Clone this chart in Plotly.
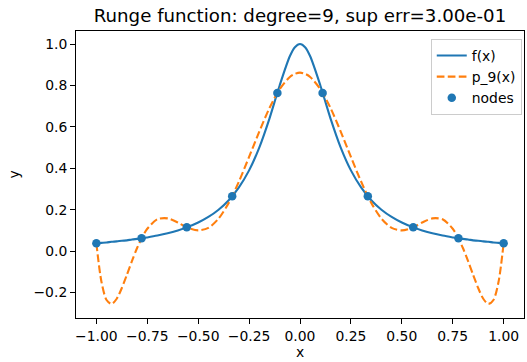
import plotly.graph_objects as go

# Shared sample positions along x
x_vals = [-1.0, -0.975, -0.95, -0.925, -0.9, -0.875, -0.85, -0.825, -0.8, -0.775, -0.75,
          -0.7, -0.65, -0.6, -0.55, -0.5, -0.45, -0.4, -0.35, -0.3, -0.25, -0.2, -0.15,
          -0.1, -0.05, -0.025, 0.0, 0.025, 0.05, 0.1, 0.15, 0.2, 0.25, 0.3, 0.35, 0.4,
          0.45, 0.5, 0.55, 0.6, 0.65, 0.7, 0.75, 0.775, 0.8, 0.825, 0.85, 0.875, 0.9,
          0.925, 0.95, 0.975, 1.0]

# Runge function values f(x)
f_vals = [0.038, 0.040, 0.042, 0.045, 0.047, 0.050, 0.052, 0.056, 0.059, 0.062, 0.066,
          0.075, 0.086, 0.100, 0.117, 0.138, 0.165, 0.200, 0.246, 0.308, 0.390, 0.500, 0.640,
          0.800, 0.941, 0.985, 1.000, 0.985, 0.941, 0.800, 0.640, 0.500, 0.390, 0.308, 0.246, 0.200,
          0.165, 0.138, 0.117, 0.100, 0.086, 0.075, 0.066, 0.062, 0.059, 0.056, 0.052, 0.050, 0.047,
          0.045, 0.042, 0.040, 0.038]

# Degree-9 interpolant p_9(x)
p_vals = [0.038, -0.148, -0.236, -0.255, -0.230, -0.178, -0.114, -0.047, 0.015, 0.067, 0.108,
          0.154, 0.158, 0.138, 0.112, 0.100, 0.112, 0.157, 0.233, 0.336, 0.455, 0.577, 0.691,
          0.782, 0.841, 0.856, 0.862, 0.856, 0.841, 0.782, 0.691, 0.577, 0.455, 0.336, 0.233, 0.157,
          0.112, 0.100, 0.112, 0.138, 0.158, 0.154, 0.108, 0.067, 0.015, -0.047, -0.114, -0.178, -0.230,
          -0.255, -0.236, -0.148, 0.038]

# Interpolation nodes
node_x = [-1.0, -0.778, -0.556, -0.333, -0.111, 0.111, 0.333, 0.556, 0.778, 1.0]
node_y = [0.038, 0.062, 0.115, 0.265, 0.764, 0.764, 0.265, 0.115, 0.062, 0.038]

title_text = "Runge function: degree=9, sup err=3.00e-01"

BLUE = "#1f77b4"
ORANGE = "#ff7f0e"
FONT = "DejaVu Sans"

fig = go.Figure()
fig.add_trace(go.Scatter(x=x_vals, y=f_vals, mode="lines", name="f(x)",
                         line=dict(color=BLUE, width=2.1, shape="spline", smoothing=0.8)))
fig.add_trace(go.Scatter(x=x_vals, y=p_vals, mode="lines", name="p_9(x)",
                         line=dict(color=ORANGE, width=2.1, dash="7.7px,3.3px", shape="spline", smoothing=0.8)))
fig.add_trace(go.Scatter(x=node_x, y=node_y, mode="markers", name="nodes",
                         marker=dict(color=BLUE, size=8.5, line=dict(width=0))))

axis_common = dict(showline=True, linecolor="black", linewidth=1, mirror=True,
                   ticks="outside", ticklen=5, tickcolor="black", showgrid=False,
                   zeroline=False, automargin=False,
                   tickfont=dict(size=13.9, color="black", family=FONT))

fig.update_layout(
    width=527, height=362,
    margin=dict(l=76, r=3, t=31, b=44),
    paper_bgcolor="white", plot_bgcolor="white",
    font=dict(family=FONT, color="black", size=13.9),
    title=dict(text=title_text, x=0.5, xanchor="center", xref="paper",
               y=1 - 16 / 362, yref="container", yanchor="middle",
               font=dict(size=18.2, family=FONT, color="black")),
    xaxis=dict(range=[-1.1, 1.1], dtick=0.25, tick0=0, tickformat=".2f",
               title=dict(text="x", font=dict(size=13.9), standoff=0), **axis_common),
    yaxis=dict(range=[-0.323, 1.063], dtick=0.2, tick0=0, tickformat=".1f",
               title=dict(text="y", font=dict(size=13.9), standoff=10), **axis_common),
    legend=dict(x=0.995, y=0.972, xanchor="right", yanchor="top",
                bgcolor="rgba(255,255,255,0.8)", bordercolor="#cccccc", borderwidth=1,
                font=dict(size=13.9, family=FONT, color="black"),
                tracegroupgap=0),
    showlegend=True,
)

fig.write_html("out.html", config={"displayModeBar": False},
               post_script="document.body.style.margin='0';document.body.style.padding='0';")
